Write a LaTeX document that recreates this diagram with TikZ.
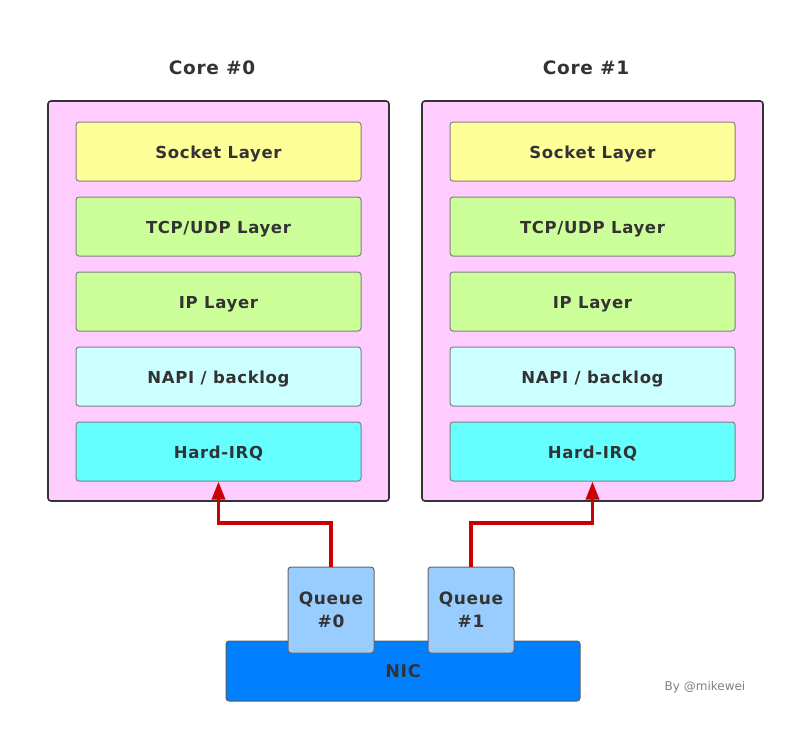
\documentclass[tikz,border=0pt]{standalone}
\usepackage{fontspec}
\setmainfont{DejaVu Sans}
\newfontfamily\vb[LetterSpace=4]{DejaVu Sans}
\usetikzlibrary{arrows.meta}
\definecolor{txt}{HTML}{333333}
\definecolor{corefill}{HTML}{FFCCFF}
\definecolor{sockfill}{HTML}{FFFF99}
\definecolor{tcpfill}{HTML}{CCFF99}
\definecolor{napifill}{HTML}{CCFFFF}
\definecolor{irqfill}{HTML}{66FFFF}
\definecolor{queuefill}{HTML}{99CCFF}
\definecolor{nicfill}{HTML}{007FFF}
\definecolor{arrowred}{HTML}{CC0000}
\definecolor{layerdraw}{HTML}{808080}
\tikzset{
  corebox/.style={draw=txt, line width=1.6pt, fill=corefill, rounded corners=3pt},
  layerbox/.style={draw=layerdraw, line width=1pt, rounded corners=3pt, minimum width=285pt, minimum height=59pt, inner sep=0pt, text height=15pt, text depth=2pt, font=\vb\fontsize{16.5}{19}\selectfont\bfseries, text=txt},
  queuebox/.style={draw=layerdraw!80!black, line width=1pt, rounded corners=3pt, fill=queuefill, minimum width=86pt, minimum height=86pt, inner sep=0pt, font=\vb\fontsize{17}{23}\selectfont\bfseries, text=txt, align=center},
  nicbox/.style={draw=txt!80, line width=1pt, rounded corners=3pt, fill=nicfill, minimum width=354pt, minimum height=60pt, inner sep=0pt, text height=15pt, text depth=2pt, font=\vb\fontsize{17.5}{20}\selectfont\bfseries, text=txt},
  title/.style={font=\vb\fontsize{18.5}{22}\selectfont\bfseries, text=txt},
  flow/.style={draw=arrowred, line width=3.5pt, -{Triangle[length=18pt,width=13pt]}},
}
\begin{document}
\begin{tikzpicture}[x=1pt,y=-1pt]
\useasboundingbox (0,0) rectangle (795,734);
% cores
\node[title] (t0) at (212,68) {Core \#0};
\node[title] (t1) at (586,68) {Core \#1};
\draw[corebox] (48,101) rectangle (389,501);
\draw[corebox] (422,101) rectangle (763,501);
% layers core 0
\node[layerbox, fill=sockfill] (s0) at (218.5,151.5) {Socket Layer};
\node[layerbox, fill=tcpfill] (tcp0) at (218.5,226.5) {TCP/UDP Layer};
\node[layerbox, fill=tcpfill] (ip0) at (218.5,301.5) {IP Layer};
\node[layerbox, fill=napifill] (napi0) at (218.5,376.5) {NAPI / backlog};
\node[layerbox, fill=irqfill] (irq0) at (218.5,451.5) {Hard-IRQ};
% layers core 1
\node[layerbox, fill=sockfill] (s1) at (592.5,151.5) {Socket Layer};
\node[layerbox, fill=tcpfill] (tcp1) at (592.5,226.5) {TCP/UDP Layer};
\node[layerbox, fill=tcpfill] (ip1) at (592.5,301.5) {IP Layer};
\node[layerbox, fill=napifill] (napi1) at (592.5,376.5) {NAPI / backlog};
\node[layerbox, fill=irqfill] (irq1) at (592.5,451.5) {Hard-IRQ};
% NIC
\node[nicbox] (nic) at (403,671) {NIC};
\node[queuebox] (q0) at (331,610) {Queue\\\#0};
\node[queuebox] (q1) at (471,610) {Queue\\\#1};
% arrows
\draw[flow] (q0.north) -- (331,523) -- (218.5,523) -- (irq0.south);
\draw[flow] (q1.north) -- (471,523) -- (592.5,523) -- (irq1.south);
% credit
\node[font=\fontsize{12}{14}\selectfont, text=gray] (credit) at (705,687) {By @mikewei};
\end{tikzpicture}
\end{document}
